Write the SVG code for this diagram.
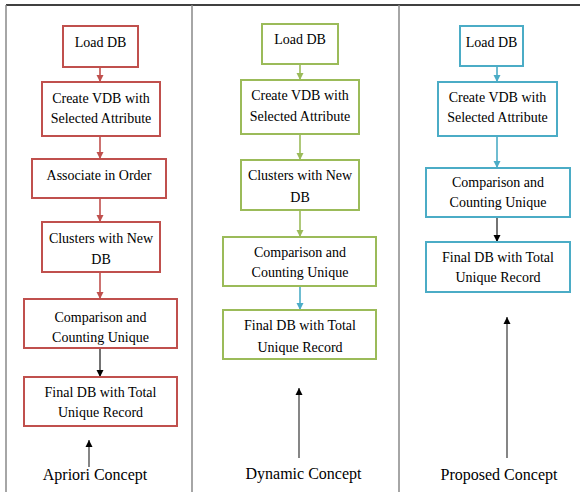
<svg xmlns="http://www.w3.org/2000/svg" width="580" height="492" viewBox="0 0 580 492">
<defs>
<style>
text{font-family:"Liberation Serif","Times New Roman",serif;font-size:14px;fill:#000;text-anchor:middle}
.lbl{font-size:16px}
rect{fill:#fff;stroke-width:2}
.r rect{stroke:#C0504D}
.g rect{stroke:#9BBB59}
.b rect{stroke:#4BACC6}
.c{fill:none;stroke-width:1.6}
.cr{stroke:#C0504D}
.cg{stroke:#9BBB59}
.cb{stroke:#4BACC6}
.ck{stroke:#000;stroke-width:1.1}
.up{fill:none;stroke:#444;stroke-width:1.3}
.frame{stroke:#888;stroke-width:1.5;fill:none}
</style>
<marker id="mr" markerUnits="userSpaceOnUse" markerWidth="8" markerHeight="8" refX="7" refY="4" orient="auto"><path d="M0,0.5 L7,4 L0,7.5z" fill="#C0504D"/></marker>
<marker id="mg" markerUnits="userSpaceOnUse" markerWidth="8" markerHeight="8" refX="7" refY="4" orient="auto"><path d="M0,0.5 L7,4 L0,7.5z" fill="#9BBB59"/></marker>
<marker id="mb" markerUnits="userSpaceOnUse" markerWidth="8" markerHeight="8" refX="7" refY="4" orient="auto"><path d="M0,0.5 L7,4 L0,7.5z" fill="#4BACC6"/></marker>
<marker id="mk" markerUnits="userSpaceOnUse" markerWidth="8" markerHeight="8" refX="7" refY="4" orient="auto"><path d="M0,0.5 L7,4 L0,7.5z" fill="#000"/></marker>
</defs>
<rect x="0" y="0" width="580" height="492" fill="#fff" stroke="none"/>
<g id="frame">
<line x1="6" y1="5" x2="580" y2="5" stroke="#000" stroke-width="1.5"/>
<line class="frame" x1="6" y1="5" x2="6" y2="492"/>
<line class="frame" x1="192" y1="5" x2="192" y2="492"/>
<line class="frame" x1="399" y1="5" x2="399" y2="492"/>
</g>
<g id="connectors">
<line class="c cr" x1="100" y1="67" x2="100" y2="82" marker-end="url(#mr)"/>
<line class="c cr" x1="100" y1="136" x2="100" y2="159" marker-end="url(#mr)"/>
<line class="c cr" x1="100" y1="198" x2="100" y2="222" marker-end="url(#mr)"/>
<line class="c cr" x1="100" y1="272" x2="100" y2="299" marker-end="url(#mr)"/>
<line class="c ck" x1="100" y1="348" x2="100" y2="377" marker-end="url(#mk)"/>
<line class="c cg" x1="300" y1="64" x2="300" y2="80" marker-end="url(#mg)"/>
<line class="c cg" x1="300" y1="134" x2="300" y2="160" marker-end="url(#mg)"/>
<line class="c cg" x1="300" y1="210" x2="300" y2="237" marker-end="url(#mg)"/>
<line class="c cb" x1="300" y1="286" x2="300" y2="310" marker-end="url(#mb)"/>
<line class="c cb" x1="497" y1="66" x2="497" y2="82" marker-end="url(#mb)"/>
<line class="c cb" x1="497" y1="136" x2="497" y2="168" marker-end="url(#mb)"/>
<line class="c ck" x1="497" y1="217" x2="497" y2="242" marker-end="url(#mk)"/>
<line class="up" x1="89" y1="467" x2="89" y2="440" marker-end="url(#mk)"/>
<line class="up" x1="299" y1="458" x2="299" y2="388" marker-end="url(#mk)"/>
<line class="up" x1="507" y1="458" x2="507" y2="317" marker-end="url(#mk)"/>
</g>
<g id="a-load" class="r"><rect x="63" y="26" width="75" height="41"/><text x="100.5" y="47">Load DB</text></g>
<g id="a-create" class="r"><rect x="42" y="82" width="118" height="54"/><text x="101" y="103">Create VDB with</text><text x="101" y="123">Selected Attribute</text></g>
<g id="a-assoc" class="r"><rect x="32" y="159" width="134" height="39"/><text x="99" y="180">Associate in Order</text></g>
<g id="a-clusters" class="r"><rect x="42" y="222" width="118" height="50"/><text x="101" y="243">Clusters with New</text><text x="101" y="264">DB</text></g>
<g id="a-compare" class="r"><rect x="24" y="299" width="153" height="49"/><text x="100.5" y="322">Comparison and</text><text x="100.5" y="342">Counting Unique</text></g>
<g id="a-final" class="r"><rect x="24" y="377" width="153" height="49"/><text x="100.5" y="397">Final DB with Total</text><text x="100.5" y="417">Unique Record</text></g>
<g id="a-label"><text class="lbl" x="95" y="480">Apriori Concept</text></g>
<g id="d-load" class="g"><rect x="262" y="24" width="76" height="40"/><text x="300" y="44">Load DB</text></g>
<g id="d-create" class="g"><rect x="241" y="80" width="118" height="54"/><text x="300" y="100">Create VDB with</text><text x="300" y="121">Selected Attribute</text></g>
<g id="d-clusters" class="g"><rect x="241" y="160" width="118" height="50"/><text x="300" y="180">Clusters with New</text><text x="300" y="202">DB</text></g>
<g id="d-compare" class="g"><rect x="223" y="237" width="153" height="49"/><text x="300" y="257">Comparison and</text><text x="300" y="277">Counting Unique</text></g>
<g id="d-final" class="g"><rect x="223" y="310" width="153" height="49"/><text x="300" y="330">Final DB with Total</text><text x="300" y="352">Unique Record</text></g>
<g id="d-label"><text class="lbl" x="303.5" y="479">Dynamic Concept</text></g>
<g id="p-load" class="b"><rect x="460" y="26" width="63" height="40"/><text x="491.5" y="47">Load DB</text></g>
<g id="p-create" class="b"><rect x="438" y="82" width="119" height="54"/><text x="497.5" y="102">Create VDB with</text><text x="497.5" y="122">Selected Attribute</text></g>
<g id="p-compare" class="b"><rect x="426" y="168" width="144" height="49"/><text x="498" y="187">Comparison and</text><text x="498" y="207">Counting Unique</text></g>
<g id="p-final" class="b"><rect x="426" y="242" width="144" height="50"/><text x="498" y="262">Final DB with Total</text><text x="498" y="282">Unique Record</text></g>
<g id="p-label"><text class="lbl" x="499" y="480">Proposed Concept</text></g>
</svg>
